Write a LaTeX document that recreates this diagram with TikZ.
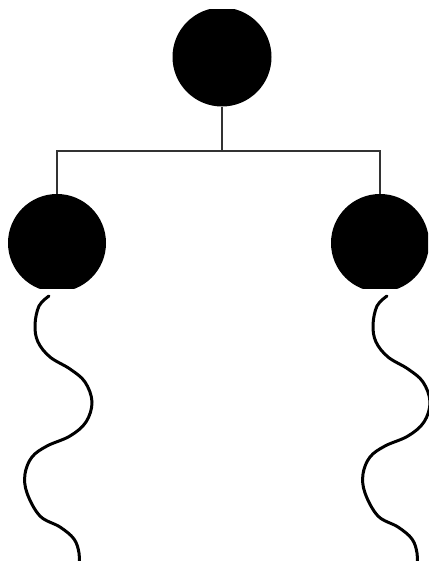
\documentclass[tikz,border=0pt]{standalone}
\usetikzlibrary{positioning}
\begin{document}
\begin{tikzpicture}[x=1pt,y=-1pt]
\tikzstyle{ball}=[circle,fill=black,inner sep=0pt,minimum size=98pt]
\tikzstyle{link}=[line width=2.5pt,black!80]
\tikzstyle{wave}=[line width=3pt,line cap=round]
\useasboundingbox (0,0) rectangle (428,561);
% the three blobs, flattened where the frame cuts them
\begin{scope}
\clip (0,10) rectangle (428,288);
\node[ball,minimum size=99pt] (root) at (222,57) {};
\node[ball] (lkid) at (57,243) {};
\node[ball] (rkid) at (380,243) {};
\end{scope}
\coordinate (bar) at (222,151);
\draw[link] (root.south) -- (bar);
\draw[link] (lkid.north) |- (bar) -| (rkid.north);
% tails
\foreach \dx in {0,338}{
\begin{scope}[xshift=\dx]
\draw[wave] plot[smooth,tension=0.6] coordinates {(49,296) (39,306) (35,325) (38,342) (50,357) (70,369) (85,382) (92,402) (86,422) (70,436) (47,446) (32,457) (25,474) (27,493) (40,516) (60,527) (74,539) (79,553) (79,566)};
\end{scope}
}
\end{tikzpicture}
\end{document}
